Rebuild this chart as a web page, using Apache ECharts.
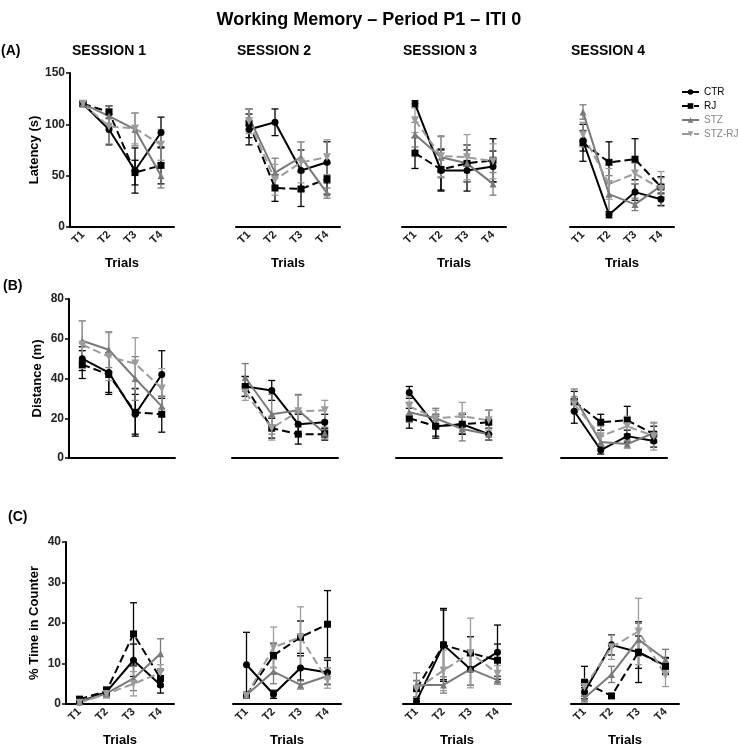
<!DOCTYPE html>
<html>
<head>
<meta charset="utf-8">
<script src="https://cdn.jsdelivr.net/npm/echarts@6/dist/echarts.min.js"></script>
<style>html,body{margin:0;padding:0;background:#fff}#c{width:738px;height:748px}</style>
</head>
<body>
<div id="c"></div>
<script>
// ---------- DATA (rows = sessions 1..4, columns = trials T1..T4) ----------
const trials = ['T1', 'T2', 'T3', 'T4'];
const sessions = ['SESSION 1', 'SESSION 2', 'SESSION 3', 'SESSION 4'];
const groups = ['CTR', 'RJ', 'STZ', 'STZ-RJ'];

// (A) Latency (s)
const latCTR      = [[120, 95, 55, 92], [95, 102, 55, 63], [120, 55, 55, 59], [84, 12, 34, 27]];
const latCTRErr   = [[2, 15, 22, 15], [15, 13, 20, 20], [3, 20, 20, 15], [10, 3, 8, 6]];
const latRJ       = [[120, 112, 53, 60], [101, 38, 37, 47], [72, 56, 62, 65], [82, 63, 66, 39]];
const latRJErr    = [[2, 6, 12, 18], [14, 13, 17, 15], [15, 20, 18, 21], [18, 20, 20, 10]];
const latSTZ      = [[120, 108, 95, 50], [107, 53, 68, 33], [90, 68, 62, 42], [112, 32, 22, 40]];
const latSTZErr   = [[2, 10, 16, 12], [8, 14, 15, 5], [12, 20, 18, 11], [7, 18, 6, 8]];
const latSTZRJ    = [[120, 98, 96, 80], [103, 46, 63, 68], [104, 69, 68, 64], [90, 42, 52, 37]];
const latSTZRJErr = [[2, 17, 15, 15], [12, 15, 20, 17], [12, 20, 22, 17], [12, 15, 10, 17]];

// (B) Distance (m)
const disCTR      = [[50, 43, 22, 42], [36, 34, 17, 18], [33, 16, 17, 12], [23.5, 4, 11, 8.5]];
const disCTRErr   = [[6, 10, 10, 12], [5, 5, 5, 4], [3, 5, 5, 3], [6, 2, 3, 3]];
const disRJ       = [[47, 42, 23, 22], [36, 15, 12, 12], [20, 16, 17, 18], [28.5, 18, 19, 12]];
const disRJErr    = [[7, 10, 12, 9], [5, 5, 5, 3], [5, 6, 5, 6], [5, 4, 7, 4]];
const disSTZ      = [[59, 54.5, 40, 26], [40.5, 22, 24, 12.5], [23, 20, 14.6, 12], [30.7, 8, 7, 12.6]];
const disSTZErr   = [[10, 9, 11, 5], [7, 10, 8, 3], [5, 5, 6, 3], [4, 3, 2, 5]];
const disSTZRJ    = [[57, 51, 47.5, 35], [33, 15, 23.5, 24], [26, 20, 21, 19], [27, 11, 16, 11]];
const disSTZRJErr = [[12, 12, 13, 10], [4, 6, 8, 5], [5, 4, 7, 5], [4, 5, 5, 7]];

// (C) % Time in Counter
const timCTR      = [[0.5, 3, 10.8, 4.7], [9.7, 2.4, 8.9, 7.8], [0.7, 14.6, 8.6, 12.8], [3, 14.6, 12.8, 9.5]];
const timCTRErr   = [[0.5, 1, 4, 2], [8, 1, 3, 3], [0.7, 9, 4, 6.7], [1, 2.5, 4, 2]];
const timRJ       = [[1.2, 3.2, 17.3, 6.3], [2.2, 12, 16.5, 19.7], [3.8, 14.6, 12.6, 10.8], [5.3, 2, 12.8, 9.3]];
const timRJErr    = [[0.5, 1, 7.7, 2], [0.5, 3, 4, 8.3], [2, 8.6, 4, 4], [4, 0.5, 7.5, 2]];
const timSTZ      = [[0.5, 2.6, 6.3, 12.4], [2.2, 8, 4.7, 6.9], [4.7, 4.7, 8.6, 5.9], [1.5, 7.3, 15.9, 11]];
const timSTZErr   = [[0.5, 1, 3, 3.7], [0.5, 3, 1, 2], [3, 2, 4, 1], [1, 2, 4, 2.5]];
const timSTZRJ    = [[0.3, 2.5, 5, 7.7], [2, 14, 16.5, 5.9], [3.7, 8.3, 12.6, 7.5], [4.2, 14, 17.9, 7.1]];
const timSTZRJErr = [[0.3, 1, 3, 2], [0.5, 5, 7.5, 2], [2, 5, 8.6, 2], [2, 3, 8.2, 2.8]];

const yTicks = { lat: [0, 50, 100, 150], dis: [0, 20, 40, 60, 80], tim: [0, 10, 20, 30, 40] };

// ---------- STYLE / LAYOUT ----------
const FONT = "'Liberation Sans', Arial, sans-serif";
const rows = [
  { key: 'lat', name: 'Latency (s)', label: '(A)', means: [latCTR, latRJ, latSTZ, latSTZRJ], errs: [latCTRErr, latRJErr, latSTZErr, latSTZRJErr],
    top: 73, h: 154, lefts: [70, 236, 402, 570], w: 104, showX: true, labelY: 52, labelX: 1 },
  { key: 'dis', name: 'Distance (m)', label: '(B)', means: [disCTR, disRJ, disSTZ, disSTZRJ], errs: [disCTRErr, disRJErr, disSTZErr, disSTZRJErr],
    top: 299, h: 159, lefts: [69, 232, 396, 561], w: 106, showX: false, labelY: 287, labelX: 3 },
  { key: 'tim', name: '% Time in Counter', label: '(C)', means: [timCTR, timRJ, timSTZ, timSTZRJ], errs: [timCTRErr, timRJErr, timSTZErr, timSTZRJErr],
    top: 542, h: 164, lefts: [66, 233, 403, 571], w: 108, showX: true, labelY: 518, labelX: 8 }
];
const gStyle = [
  { color: '#000000', type: 'solid', symbol: 'circle' },
  { color: '#000000', type: 'dashed', symbol: 'rect' },
  { color: '#7a7a7a', type: 'solid', symbol: 'triangle' },
  { color: '#9c9c9c', type: 'dashed', symbol: 'path://M0,0 L10,0 L5,9 Z' }
];

function errItem(params, api) {
  const x = api.value(0);
  const pLo = api.coord([x, api.value(1)]);
  const pHi = api.coord([x, api.value(2)]);
  const w = 3.5;
  const style = { stroke: api.visual('color'), lineWidth: 1.3, fill: null };
  return { type: 'group', children: [
    { type: 'line', shape: { x1: pHi[0], y1: pHi[1], x2: pLo[0], y2: pLo[1] }, style },
    { type: 'line', shape: { x1: pHi[0] - w, y1: pHi[1], x2: pHi[0] + w, y2: pHi[1] }, style },
    { type: 'line', shape: { x1: pLo[0] - w, y1: pLo[1], x2: pLo[0] + w, y2: pLo[1] }, style }
  ]};
}

const grid = [], xAxis = [], yAxis = [], series = [], graphic = [];
rows.forEach((row, r) => {
  const ticks = yTicks[row.key];
  graphic.push({ type: 'text', left: row.labelX, top: row.labelY - 8,
    style: { text: row.label, font: 'bold 14px ' + FONT, fill: '#000' } });
  for (let c = 0; c < 4; c++) {
    const gi = r * 4 + c;
    grid.push({ left: row.lefts[c], top: row.top, width: row.w, height: row.h });
    xAxis.push({
      type: 'category', gridIndex: gi, data: trials, boundaryGap: true,
      axisLine: { lineStyle: { color: '#000', width: 2 } },
      axisTick: { alignWithLabel: true, length: 4, lineStyle: { color: '#000', width: 1.5 } },
      axisLabel: { show: row.showX, rotate: 45, fontSize: 11, fontWeight: 'bold', color: '#222', margin: 6, fontFamily: FONT },
      name: row.showX ? 'Trials' : '', nameLocation: 'middle', nameGap: 30,
      nameTextStyle: { fontSize: 13, fontWeight: 'bold', color: '#000', fontFamily: FONT },
      splitLine: { show: false }
    });
    yAxis.push({
      type: 'value', gridIndex: gi, min: ticks[0], max: ticks[ticks.length - 1], interval: ticks[1] - ticks[0],
      show: c === 0,
      axisLine: { show: true, lineStyle: { color: '#000', width: 2 } },
      axisTick: { show: true, length: 4, lineStyle: { color: '#000', width: 1.5 } },
      axisLabel: { fontSize: 12, fontWeight: 'bold', color: '#222', margin: 5, fontFamily: FONT },
      splitLine: { show: false },
      name: c === 0 ? row.name : '', nameLocation: 'middle', nameGap: 25, nameRotate: 90,
      nameTextStyle: { fontSize: 13, fontWeight: 'bold', color: '#000', fontFamily: FONT }
    });
    if (r === 0) {
      graphic.push({ type: 'text', left: row.lefts[c] + (c === 0 ? 2 : 1), top: 44,
        style: { text: sessions[c], font: 'bold 14px ' + FONT, fill: '#000' } });
    }
    groups.forEach((g, k) => {
      const m = row.means[k][c], e = row.errs[k][c], st = gStyle[k];
      series.push({
        type: 'line', name: g, xAxisIndex: gi, yAxisIndex: gi, data: m, z: 3,
        symbol: st.symbol, symbolSize: k === 3 ? 8 : 7,
        itemStyle: { color: st.color },
        lineStyle: { color: st.color, width: 2, type: st.type }
      });
      series.push({
        type: 'custom', name: g, xAxisIndex: gi, yAxisIndex: gi,
        itemStyle: { color: st.color }, renderItem: errItem, z: 2,
        encode: { x: 0, y: [1, 2] },
        data: m.map((v, i) => [i, v - e[i], v + e[i]])
      });
    });
  }
});

const chart = echarts.init(document.getElementById('c'), null, { renderer: 'canvas' });
chart.setOption({
  backgroundColor: '#fff',
  animation: false,
  title: { text: 'Working Memory \u2013 Period P1 \u2013 ITI 0', left: 'center', top: 6,
    textStyle: { fontSize: 18, fontWeight: 'bold', color: '#000', fontFamily: FONT } },
  legend: {
    orient: 'vertical', left: 681, top: 87, padding: 0, itemGap: 4, itemWidth: 17, itemHeight: 7,
    data: groups.map((g, k) => ({ name: g, textStyle: { color: k < 2 ? '#000' : '#888' } })),
    textStyle: { fontSize: 10, fontFamily: FONT }
  },
  graphic: graphic,
  grid: grid, xAxis: xAxis, yAxis: yAxis, series: series
});
</script>
</body>
</html>
